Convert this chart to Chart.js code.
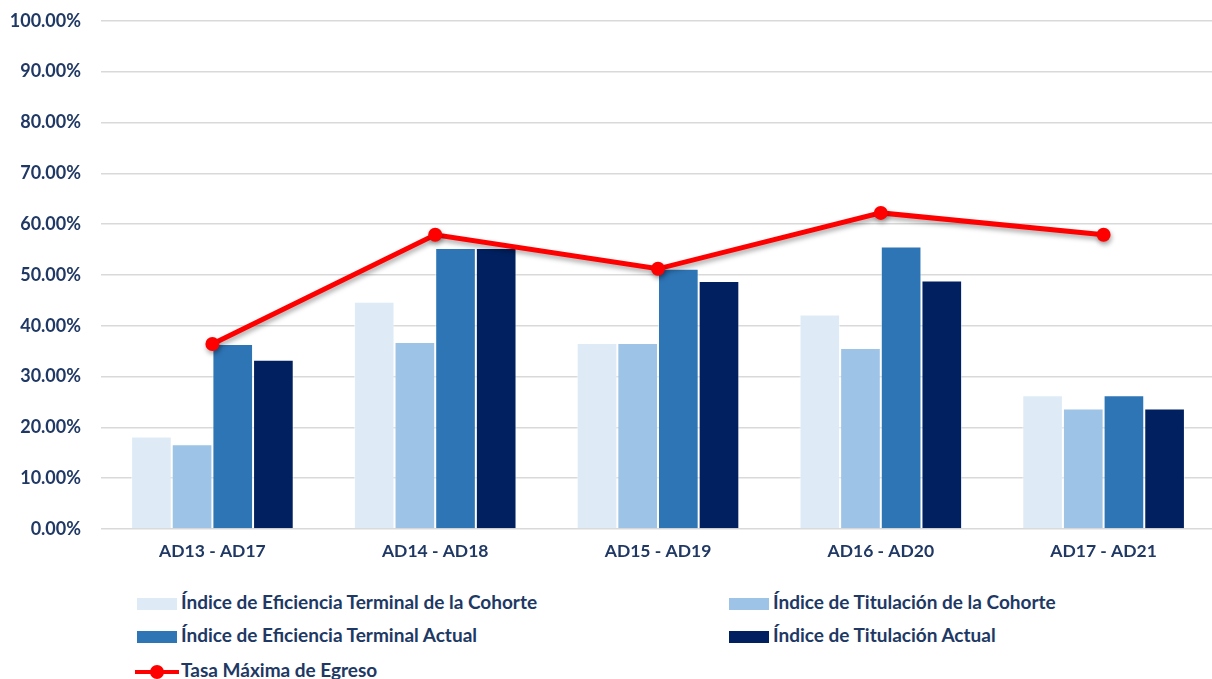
<!DOCTYPE html>
<html>
<head>
<meta charset="utf-8">
<script src="https://cdn.jsdelivr.net/npm/chart.js@4.4.1/dist/chart.umd.min.js"></script>
<style>
  html, body { margin: 0; padding: 0; background: #fff; overflow: hidden; }
  #wrap { position: absolute; left: 0; top: -10px; width: 1222px; height: 590px; }
  #legend { position: absolute; left: 0; top: 580px; width: 1212px; height: 99px;
            font-family: Lato, "Open Sans", sans-serif; font-weight: bold; font-size: 19px; color: #203864; }
  .item { position: absolute; white-space: nowrap; line-height: 20px; }
  .sw { display: inline-block; width: 40px; height: 12px; vertical-align: -1px; margin-right: 4px; }
  .ln { display: inline-block; position: relative; width: 44px; height: 12px; vertical-align: -1px; margin-right: 2px; }
  .ln:before { content: ""; position: absolute; left: 0; right: 0; top: 4px; height: 4px; background: #ff0000; }
  .ln:after { content: ""; position: absolute; left: 15px; top: -1px; width: 14px; height: 14px; border-radius: 7px; background: #ff0000; }
</style>
</head>
<body>
<div id="wrap"><canvas id="chart"></canvas></div>
<div id="legend"></div>
<script>
// categorías y series
var categories = ["AD13 - AD17", "AD14 - AD18", "AD15 - AD19", "AD16 - AD20", "AD17 - AD21"];
var eficienciaCohorte = [18.2, 44.7, 36.6, 42.2, 26.3];
var titulacionCohorte = [16.7, 36.8, 36.6, 35.6, 23.7];
var eficienciaActual = [36.4, 55.3, 51.2, 55.6, 26.3];
var titulacionActual = [33.3, 55.3, 48.8, 48.9, 23.7];
var tasaMaxima = [36.4, 57.9, 51.2, 62.2, 57.9];
var yTicks = [0, 10, 20, 30, 40, 50, 60, 70, 80, 90, 100];

var textColor = "#203864";
var fontFamily = "Lato, 'Open Sans', sans-serif";

// sombra para la línea
var lineShadow = {
    id: "lineShadow",
    beforeDatasetDraw: function (chart, args) {
        if (args.index === 4) {
            var ctx = chart.ctx;
            ctx.save();
            ctx.shadowColor = "rgba(0,0,0,0.35)";
            ctx.shadowBlur = 5;
            ctx.shadowOffsetX = 1;
            ctx.shadowOffsetY = 3;
        }
    },
    afterDatasetDraw: function (chart, args) {
        if (args.index === 4) { chart.ctx.restore(); }
    }
};

function bar(label, data, color) {
    return {
        type: "bar", label: label, data: data, order: 2,
        backgroundColor: color, borderColor: "rgba(255,255,255,0.5)", borderWidth: 1,
        categoryPercentage: 0.73, barPercentage: 1
    };
}

var chart = new Chart(document.getElementById("chart"), {
    type: "bar",
    data: {
        labels: categories,
        datasets: [
            bar("Índice de Eficiencia Terminal de la Cohorte", eficienciaCohorte, "#deebf7"),
            bar("Índice de Titulación de la Cohorte", titulacionCohorte, "#9dc3e6"),
            bar("Índice de Eficiencia Terminal Actual", eficienciaActual, "#2e75b6"),
            bar("Índice de Titulación Actual", titulacionActual, "#002060"),
            {
                type: "line", label: "Tasa Máxima de Egreso", data: tasaMaxima, order: 1,
                borderColor: "#ff0000", backgroundColor: "#ff0000", borderWidth: 5,
                pointRadius: 7, pointHoverRadius: 7, pointBorderWidth: 0, tension: 0
            }
        ]
    },
    options: {
        responsive: true,
        maintainAspectRatio: false,
        animation: false,
        layout: { padding: { top: 10, right: 0, left: 0, bottom: 0 } },
        plugins: { legend: { display: false }, tooltip: { enabled: false } },
        scales: {
            x: {
                grid: { display: false },
                border: { display: false },
                ticks: { color: textColor, padding: 4, font: { family: fontFamily, size: 17.5, weight: "bold" } },
                afterFit: function (scale) { scale.height = 51; }
            },
            y: {
                min: 0, max: 100,
                afterBuildTicks: function (scale) { scale.ticks = yTicks.map(function (v) { return { value: v }; }); },
                grid: { color: "#d9d9d9", lineWidth: 1.5, drawTicks: false },
                border: { display: false },
                ticks: {
                    color: textColor, padding: 20,
                    font: { family: fontFamily, size: 18, weight: "bold" },
                    callback: function (v) { return v.toFixed(2) + "%"; }
                },
                afterFit: function (scale) { scale.width = 101; }
            }
        }
    },
    plugins: [lineShadow]
});

// leyenda en dos columnas
var legendPos = [[137, 22], [729, 22], [137, 55], [729, 55], [135, 90]];
var legendBox = document.getElementById("legend");
chart.data.datasets.forEach(function (ds, i) {
    var el = document.createElement("div");
    el.className = "item";
    el.style.left = legendPos[i][0] + "px";
    el.style.top = (legendPos[i][1] - 10) + "px";
    var mark = document.createElement("span");
    if (ds.type === "line") {
        mark.className = "ln";
    } else {
        mark.className = "sw";
        mark.style.background = ds.backgroundColor;
    }
    el.appendChild(mark);
    el.appendChild(document.createTextNode(ds.label));
    legendBox.appendChild(el);
});
</script>
</body>
</html>
